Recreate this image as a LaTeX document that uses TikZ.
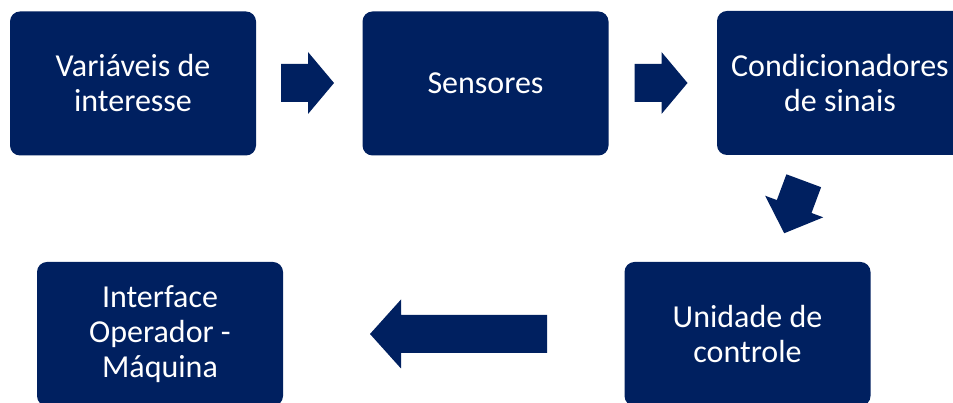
\documentclass[tikz,border=0pt]{standalone}
\usepackage{fontspec}
\setmainfont{Carlito}
\usepackage{xcolor}
\definecolor{navy}{HTML}{002060}
\tikzset{
  blk/.style={rectangle, rounded corners=10pt, fill=navy, text=white,
    minimum width=246pt, minimum height=144pt, align=center,
    font=\fontsize{32}{35}\selectfont},
  barrow/.style={fill=navy}
}

\begin{document}
\begin{tikzpicture}[x=1pt,y=1pt]
  \clip (0,0) rectangle (953,403);
  \fill[white] (0,0) rectangle (953,403);

  % blocos
  \node[blk] (var)  at (133,319.5)   {Variáveis de\\interesse};
  \node[blk] (sens) at (485.5,319.5) {Sensores};
  \node[blk] (cond) at (840,320)     {Condicionadores\\de sinais};
  \node[blk] (unid) at (747.5,69)    {Unidade de\\controle};
  \node[blk] (ihm)  at (160,69)      {Interface\\Operador -\\Máquina};

  % setas
  \begin{scope}[shift={(307.5,320)}]
    \fill[barrow] (-26.5,-19) -- (0.5,-19) -- (0.5,-31) -- (26.5,0)
      -- (0.5,31) -- (0.5,19) -- (-26.5,19) -- cycle;
  \end{scope}
  \begin{scope}[shift={(661,320)}]
    \fill[barrow] (-26.5,-19) -- (0.5,-19) -- (0.5,-31) -- (26.5,0)
      -- (0.5,31) -- (0.5,19) -- (-26.5,19) -- cycle;
  \end{scope}
  \begin{scope}[shift={(794,196)}, rotate=249.6]
    \fill[barrow] (-28,-18.5) -- (-0.5,-18.5) -- (-0.5,-31) -- (28,0)
      -- (-0.5,31) -- (-0.5,18.5) -- (-28,18.5) -- cycle;
  \end{scope}
  \begin{scope}[shift={(458.5,69)}, rotate=180]
    \fill[barrow] (-88.5,-19) -- (57.5,-19) -- (57.5,-34.5) -- (88.5,0)
      -- (57.5,34.5) -- (57.5,19) -- (-88.5,19) -- cycle;
  \end{scope}
\end{tikzpicture}
\end{document}
